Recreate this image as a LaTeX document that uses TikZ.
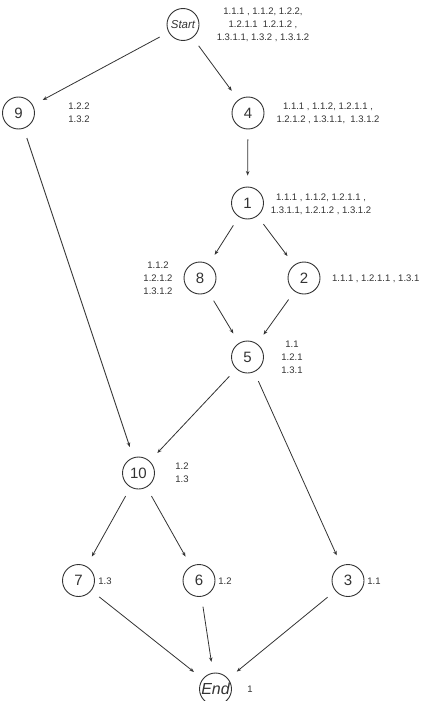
\documentclass[tikz,border=0pt]{standalone}
\usepackage{fontspec}
\setmainfont{Liberation Sans}
\usetikzlibrary{arrows.meta}
\definecolor{ink}{HTML}{333333}
\begin{document}
\begin{tikzpicture}[x=1pt,y=-1pt,
  state/.style={circle,draw=ink,line width=0.9pt,minimum size=32pt,inner sep=0pt,text=ink,font=\fontsize{15}{15}\selectfont},
  lbl/.style={text=ink,align=center,inner sep=0pt,font=\fontsize{9.5}{13}\selectfont},
  edge/.style={draw=ink,line width=0.8pt,-{Stealth[length=4.5pt,width=3.5pt]},shorten <=10pt,shorten >=11pt}]
\useasboundingbox (0,0) rectangle (423,701);
% nodes
\node[state,font=\fontsize{11.5}{12}\selectfont\itshape] (start) at (183,24.5) {Start};
\node[state] (n9) at (18.5,113) {9};
\node[state] (n4) at (248,113) {4};
\node[state] (n1) at (247.5,203) {1};
\node[state] (n8) at (200,278) {8};
\node[state] (n2) at (304,278) {2};
\node[state] (n5) at (247.5,357) {5};
\node[state] (n10) at (138.5,473) {10};
\node[state] (n7) at (78.5,580.5) {7};
\node[state] (n6) at (199,580.5) {6};
\node[state] (n3) at (348,580.5) {3};
\node[state,font=\fontsize{16}{16}\selectfont\itshape] (end) at (215.5,689) {End};
% labels
\node[lbl] (lstart) at (263,24.5) {1.1.1 , 1.1.2, 1.2.2,\\1.2.1.1\ \ 1.2.1.2 ,\\1.3.1.1, 1.3.2 , 1.3.1.2};
\node[lbl] (l9) at (79,113) {1.2.2\\1.3.2};
\node[lbl] (l4) at (328,113) {1.1.1 , 1.1.2, 1.2.1.1 ,\\1.2.1.2 , 1.3.1.1,\ \ 1.3.1.2};
\node[lbl] (l1) at (321,204) {1.1.1 , 1.1.2, 1.2.1.1 ,\\1.3.1.1, 1.2.1.2 , 1.3.1.2};
\node[lbl] (l8) at (158,278.5) {1.1.2\\1.2.1.2\\1.3.1.2};
\node[lbl,anchor=west] (l2) at (332,279) {1.1.1 , 1.2.1.1 , 1.3.1};
\node[lbl] (l5) at (292,357) {1.1\\1.2.1\\1.3.1};
\node[lbl] (l10) at (182,473) {1.2\\1.3};
\node[lbl] (l7) at (105,581) {1.3};
\node[lbl] (l6) at (225,581) {1.2};
\node[lbl] (l3) at (374,581) {1.1};
\node[lbl] (lend) at (250,689) {1};
% edges
\path[edge] (start) -- (n9);
\path[edge] (start) -- (n4);
\path[edge] (n4) -- (n1);
\path[edge] (n1) -- (n8);
\path[edge] (n1) -- (n2);
\path[edge] (n8) -- (n5);
\path[edge] (n2) -- (n5);
\path[edge] (n9) -- (n10);
\path[edge] (n5) -- (n10);
\path[edge] (n5) -- (n3);
\path[edge] (n10) -- (n7);
\path[edge] (n10) -- (n6);
\path[edge] (n7) -- (end);
\path[edge] (n6) -- (end);
\path[edge] (n3) -- (end);
\end{tikzpicture}
\end{document}
